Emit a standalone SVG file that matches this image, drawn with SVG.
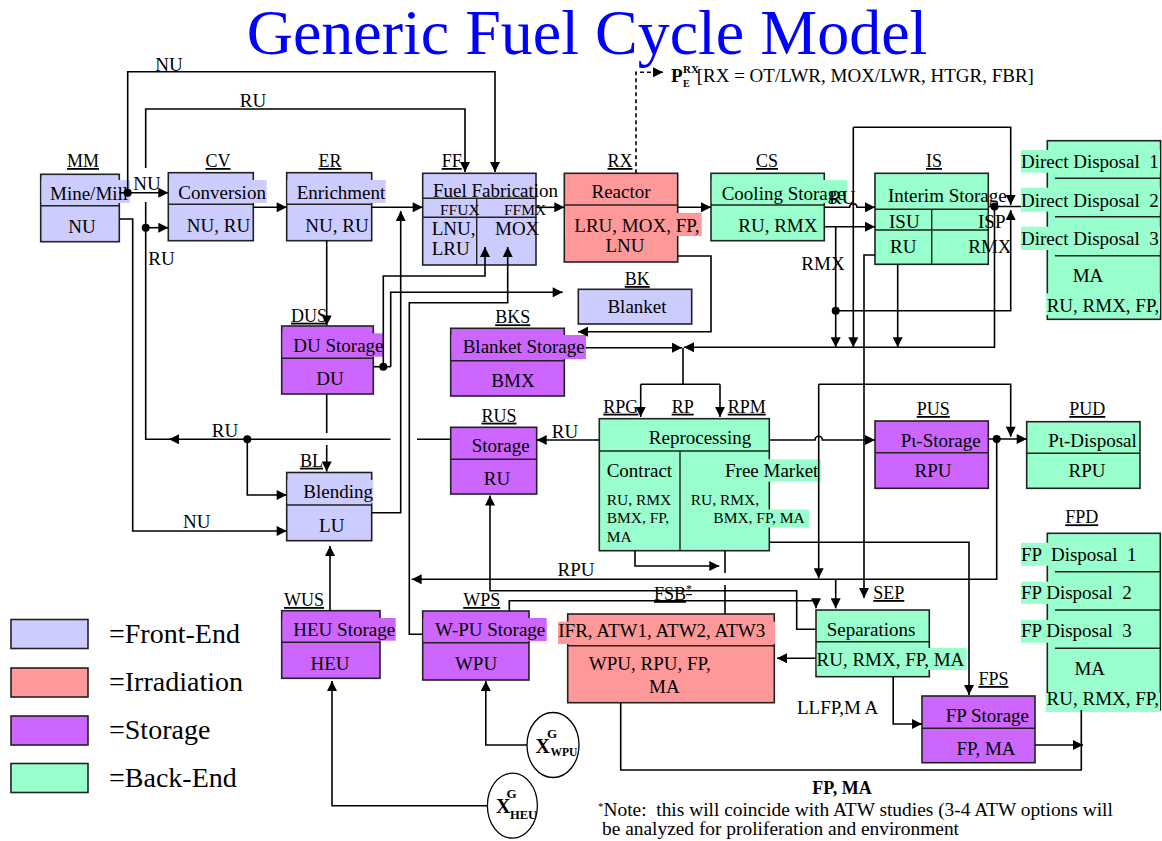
<svg xmlns="http://www.w3.org/2000/svg" width="1162" height="841" viewBox="0 0 1162 841">
<defs>
<marker id="a" viewBox="0 0 10 10" refX="10" refY="5" markerWidth="11" markerHeight="10" markerUnits="userSpaceOnUse" orient="auto"><path d="M0,0 L10,5 L0,10 z" fill="#000"/></marker>
</defs>
<style>
text{font-family:"Liberation Serif","Times New Roman",serif;font-size:19px;fill:#000}
.lb{font-size:18px;text-decoration:underline}
.c{text-anchor:middle}
.s{font-size:15.5px}
.fe{fill:#CCCCFF}.ir{fill:#FF9999}.st{fill:#CC66FF}.be{fill:#99FFCC}
.bx{stroke:#222;stroke-width:1.6}
.dv{stroke:#222;stroke-width:1.4;fill:none}
.ln{fill:none;stroke:#000;stroke-width:1.6}
.ar{marker-end:url(#a)}
.xb{font-weight:bold}
</style>
<rect width="1162" height="841" fill="#fff"/>
<text id="title" x="587" y="54" class="c" style="font-size:64px;fill:#0000FF">Generic Fuel Cycle Model</text>

<g id="MM">
<rect class="fe bx" x="40.7" y="174.3" width="78.6" height="67.4"/>
<line class="dv" x1="40.7" y1="205.7" x2="119.3" y2="205.7"/>
<rect class="fe" x="41.5" y="180" width="88.5" height="23"/>
<text x="50" y="200">Mine/Mill</text>
<text x="82" y="233" class="c">NU</text>
<text x="83" y="167" class="c lb">MM</text>
</g>
<g id="CV">
<rect class="fe bx" x="168.3" y="172.7" width="85" height="68"/>
<line class="dv" x1="168.3" y1="204.3" x2="253.3" y2="204.3"/>
<rect class="fe" x="169" y="180" width="97.7" height="23"/>
<text x="178.3" y="199">Conversion</text>
<text x="218.5" y="231.7" class="c">NU, RU</text>
<text x="218" y="167" class="c lb">CV</text>
</g>
<g id="ER">
<rect class="fe bx" x="286.7" y="172.7" width="85" height="68"/>
<line class="dv" x1="286.7" y1="204.3" x2="371.7" y2="204.3"/>
<rect class="fe" x="287.5" y="180" width="98.2" height="23"/>
<text x="296.7" y="199">Enrichment</text>
<text x="337" y="231.7" class="c">NU, RU</text>
<text x="330" y="167" class="c lb">ER</text>
</g>
<g id="FF">
<rect class="fe bx" x="422.7" y="173.3" width="113.3" height="91.7"/>
<path class="dv" d="M422.7,198.3 H536 M422.7,217.3 H536 M476.7,198.3 V265"/>
<text x="433" y="196.7">Fuel Fabrication</text>
<text x="440" y="215" style="font-size:15.5px">FFUX</text>
<text x="504" y="215" style="font-size:15.5px">FFMX</text>
<text x="431.7" y="235">LNU,</text>
<text x="431.7" y="255">LRU</text>
<text x="495" y="235">MOX</text>
<text x="451.7" y="167" class="c lb">FF</text>
</g>
<g id="RX">
<rect class="ir bx" x="564.3" y="173.3" width="113.4" height="88.7"/>
<line class="dv" x1="564.3" y1="205" x2="677.7" y2="205"/>
<rect class="ir" x="565" y="213" width="136.7" height="23"/>
<text x="621" y="198" class="c">Reactor</text>
<text x="574.3" y="231.7">LRU, MOX, FP,</text>
<text x="625" y="252" class="c">LNU</text>
<text x="620" y="167" class="c lb">RX</text>
</g>
<g id="CS">
<rect class="be bx" x="711" y="173.3" width="113.3" height="67.4"/>
<line class="dv" x1="711" y1="205" x2="824.3" y2="205"/>
<rect class="be" x="711.8" y="180" width="135.2" height="23"/>
<text x="721.7" y="200">Cooling Storage</text>
<text x="738.3" y="231.7">RU, RMX</text>
<text x="767" y="167" class="c lb">CS</text>
</g>
<g id="IS">
<rect class="be bx" x="875" y="173.3" width="113.3" height="91"/>
<path class="dv" d="M875,209.3 H988.3 M875,230 H988.3 M931.7,209.3 V264.3"/>
<text x="888" y="201.7">Interim Storage</text>
<text x="889" y="228">ISU</text>
<text x="978" y="228">ISP</text>
<text x="890" y="253">RU</text>
<text x="968.3" y="253">RMX</text>
<text x="934" y="167" class="c lb">IS</text>
</g>
<g id="DD">
<rect class="be bx" x="1047.3" y="140.7" width="113.3" height="178.6"/>
<path class="dv" d="M1055,178.3 H1160.6 M1055,216.7 H1160.6 M1055,255.7 H1160.6"/>
<rect class="be" x="1021" y="150" width="139" height="22.7"/>
<rect class="be" x="1021" y="187.7" width="139" height="24"/>
<rect class="be" x="1021" y="226.7" width="139" height="23.3"/>
<rect class="be" x="1045.7" y="293.3" width="114.3" height="21.7"/>
<text x="1021" y="168.3" xml:space="preserve">Direct Disposal  1</text>
<text x="1021" y="206.7" xml:space="preserve">Direct Disposal  2</text>
<text x="1021" y="245" xml:space="preserve">Direct Disposal  3</text>
<text x="1088" y="281.7" class="c">MA</text>
<text x="1046.7" y="311.7">RU, RMX, FP,</text>
</g>
<g id="DUS">
<rect class="st bx" x="281.7" y="326" width="91.6" height="68"/>
<line class="dv" x1="281.7" y1="358.3" x2="373.3" y2="358.3"/>
<rect class="st" x="282.5" y="333.3" width="100.8" height="23.4"/>
<text x="293.3" y="351.7">DU Storage</text>
<text x="330" y="385" class="c">DU</text>
<text x="291" y="321.7" class="lb">DUS</text>
</g>
<g id="BK">
<rect class="fe bx" x="578.3" y="289.3" width="113.4" height="34.7"/>
<text x="637" y="313.3" class="c">Blanket</text>
<text x="637.3" y="285" class="c lb">BK</text>
</g>
<g id="BKS">
<rect class="st bx" x="450.7" y="328.3" width="113.6" height="67.7"/>
<line class="dv" x1="450.7" y1="360.7" x2="564.3" y2="360.7"/>
<rect class="st" x="451.5" y="335" width="134.5" height="24"/>
<text x="462.7" y="353.3">Blanket Storage</text>
<text x="513" y="386.7" class="c">BMX</text>
<text x="512.7" y="323.3" class="c lb">BKS</text>
</g>
<g id="RUS">
<rect class="st bx" x="450.7" y="427.3" width="86" height="66.7"/>
<line class="dv" x1="450.7" y1="459.3" x2="536.7" y2="459.3"/>
<text x="471.7" y="452.3">Storage</text>
<text x="497" y="485" class="c">RU</text>
<text x="499" y="421.7" class="c lb">RUS</text>
</g>
<g id="RP">
<rect class="be bx" x="599.3" y="418.7" width="170" height="132"/>
<path class="dv" d="M599.3,451 H769.3 M680,451 V550.7"/>
<rect class="be" x="722" y="459.3" width="98.7" height="22.4"/>
<rect class="be" x="768" y="509.5" width="41" height="18"/>
<text x="700" y="444.3" class="c">Reprocessing</text>
<text x="606.7" y="476.7">Contract</text>
<text x="725" y="477">Free Market</text>
<text x="606.7" y="505" class="s">RU, RMX</text>
<text x="606.7" y="523.3" class="s">BMX, FP,</text>
<text x="606.7" y="541.7" class="s">MA</text>
<text x="690.7" y="505" class="s">RU, RMX,</text>
<text x="713.3" y="523.3" class="s">BMX, FP, MA</text>
<text x="603.3" y="412.7" class="lb">RPG</text>
<text x="682.7" y="412.7" class="c lb">RP</text>
<text x="727.7" y="412.7" class="lb">RPM</text>
</g>
<g id="PUS">
<rect class="st bx" x="875" y="421" width="113.3" height="67.3"/>
<line class="dv" x1="875" y1="452.7" x2="988.3" y2="452.7"/>
<text x="900.7" y="446.7">Pι-Storage</text>
<text x="933" y="476.7" class="c">RPU</text>
<text x="933.3" y="415" class="c lb">PUS</text>
</g>
<g id="PUD">
<rect class="be bx" x="1026.7" y="421.7" width="113.3" height="66.6"/>
<line class="dv" x1="1026.7" y1="453.3" x2="1140" y2="453.3"/>
<text x="1048.3" y="446.7">Pι-Disposal</text>
<text x="1087" y="476.7" class="c">RPU</text>
<text x="1087.3" y="415" class="c lb">PUD</text>
</g>
<g id="BL">
<rect class="fe bx" x="286.7" y="472.5" width="85" height="68.2"/>
<line class="dv" x1="286.7" y1="505" x2="371.7" y2="505"/>
<rect class="fe" x="287.5" y="480" width="85.8" height="23.3"/>
<text x="303.3" y="498.3">Blending</text>
<text x="331.7" y="531.7" class="c">LU</text>
<text x="300" y="466.7" class="lb">BL</text>
</g>
<g id="WUS">
<rect class="st bx" x="281.7" y="610.7" width="98.3" height="67.6"/>
<line class="dv" x1="281.7" y1="642.3" x2="380" y2="642.3"/>
<rect class="st" x="282.5" y="618" width="113.2" height="22.7"/>
<text x="293.3" y="635.7">HEU Storage</text>
<text x="330" y="670" class="c">HEU</text>
<text x="284" y="606" class="lb">WUS</text>
</g>
<g id="WPS">
<rect class="st bx" x="422.7" y="611" width="106.3" height="69"/>
<line class="dv" x1="422.7" y1="642.7" x2="529" y2="642.7"/>
<rect class="st" x="423.5" y="618" width="123.2" height="23"/>
<text x="435" y="635.7">W-PU Storage</text>
<text x="476" y="670" class="c">WPU</text>
<text x="481.7" y="606" class="c lb">WPS</text>
</g>
<g id="FSB">
<rect class="ir bx" x="567.7" y="614" width="206.6" height="88.7"/>
<line class="dv" x1="567.7" y1="645.7" x2="774.3" y2="645.7"/>
<rect class="ir" x="558" y="621.7" width="217" height="22.3"/>
<text x="558.3" y="636.7">IFR, ATW1, ATW2, ATW3</text>
<text x="588.8" y="670">WPU, RPU, FP,</text>
<text x="664.4" y="693.3" class="c">MA</text>
<text x="654" y="600" class="lb">FSB<tspan dy="-7" style="font-size:12px">*</tspan></text>
</g>
<g id="SEP">
<rect class="be bx" x="816" y="610" width="113.3" height="66.7"/>
<line class="dv" x1="816" y1="641.7" x2="929.3" y2="641.7"/>
<rect class="be" x="816.8" y="648" width="149.9" height="22"/>
<text x="826.7" y="635.7">Separations</text>
<text x="816.5" y="666">RU, RMX, FP, MA</text>
<text x="873.3" y="599" class="lb">SEP</text>
</g>
<g id="FPS">
<rect class="st bx" x="922" y="696" width="113" height="66.7"/>
<line class="dv" x1="922" y1="728.3" x2="1035" y2="728.3"/>
<text x="945.8" y="721.7">FP Storage</text>
<text x="986" y="755" class="c">FP, MA</text>
<text x="978.4" y="685" class="lb">FPS</text>
</g>
<g id="FPD">
<rect class="be bx" x="1047.3" y="533.3" width="113" height="176.7"/>
<path class="dv" d="M1055,571.7 H1160.3 M1055,610 H1160.3 M1055,648.3 H1160.3"/>
<rect class="be" x="1021" y="542.7" width="120" height="23"/>
<rect class="be" x="1021" y="581.7" width="120" height="22.3"/>
<rect class="be" x="1021" y="620" width="120" height="22.7"/>
<rect class="be" x="1045.6" y="693" width="114.4" height="19"/>
<text x="1021" y="560.7" xml:space="preserve">FP  Disposal  1</text>
<text x="1021" y="599.3" xml:space="preserve">FP Disposal  2</text>
<text x="1021" y="637.3" xml:space="preserve">FP Disposal  3</text>
<text x="1089.7" y="675" class="c">MA</text>
<text x="1046.6" y="705">RU, RMX, FP,</text>
<text x="1081.7" y="523.3" class="c lb">FPD</text>
</g>
<g id="XWPU">
<ellipse cx="553" cy="745" rx="26" ry="32.5" fill="#fff" stroke="#000" stroke-width="1.3"/>
<text x="535.5" y="753" class="xb" style="font-size:20px">X</text>
<text x="547" y="738" class="xb" style="font-size:13px">G</text>
<text x="550.5" y="756" class="xb" style="font-size:11.5px">WPU</text>
</g>
<g id="XHEU">
<ellipse cx="512.4" cy="805.7" rx="25" ry="32.5" fill="#fff" stroke="#000" stroke-width="1.3"/>
<text x="496" y="813" class="xb" style="font-size:20px">X</text>
<text x="506.5" y="798" class="xb" style="font-size:13px">G</text>
<text x="510" y="819" class="xb" style="font-size:12.5px">HEU</text>
</g>
<g id="legend">
<rect class="fe bx" x="11" y="619.5" width="77" height="29"/>
<rect class="ir bx" x="11" y="668" width="77" height="29"/>
<rect class="st bx" x="11" y="716" width="77" height="29"/>
<rect class="be bx" x="11" y="763.5" width="77" height="29"/>
<text x="109" y="643.3" style="font-size:28px">=Front-End</text>
<text x="109" y="690.5" style="font-size:28px">=Irradiation</text>
<text x="109" y="738.5" style="font-size:28px">=Storage</text>
<text x="109" y="786.7" style="font-size:28px">=Back-End</text>
</g>

<g id="connectors">
<path class="ln ar" d="M127.7,192.7 V71.7 H495 V172"/>
<path class="ln ar" d="M145.7,168 V109 H465 V172"/>
<path class="ln ar" d="M119.3,192.7 H168.3"/>
<path class="ln ar" d="M145.7,227.7 H168.3"/>
<path class="ln" d="M145.7,202 V439.3 H170"/>
<path class="ln ar" d="M390.5,439.3 H169"/>
<path class="ln" d="M450.7,439.3 H417"/>
<path class="ln ar" d="M253.3,207.3 H286.7"/>
<path class="ln ar" d="M371.7,207.3 H422.7"/>
<path class="ln ar" d="M536,207.3 H564.3"/>
<path class="ln ar" d="M677.7,207.3 H711"/>
<path class="ln ar" d="M824.3,207.3 H849.6 a3.7,3.7 0 0 1 7.4,0 H875"/>
<path class="ln ar" d="M824.3,226.7 H875"/>
<path class="ln ar" d="M835.7,226.7 V347.3"/>
<path class="ln ar" d="M835.7,310.7 H1010.7 V210"/>
<path class="ln ar" d="M875,255 H864 V598"/>
<path class="ln ar" d="M897.7,264.3 V347.3"/>
<path class="ln ar" d="M853.3,127.3 V347.3"/>
<path class="ln ar" d="M853.3,127.3 H1010.7 V205"/>
<path class="ln" d="M988.3,206.5 H1021"/>
<path class="ln ar" d="M994.5,206.5 V347.3 H684"/>
<path class="ln ar" d="M586,347.7 H682"/>
<path class="ln" d="M683,347.7 V384.3 M640.7,384.3 H720"/>
<path class="ln ar" d="M640.7,384.3 V417"/>
<path class="ln ar" d="M720,384.3 V417"/>
<path class="ln ar" d="M677.7,256 H711 V331.7 H578"/>
<path class="ln" d="M373.3,366.7 H390.7"/>
<path class="ln ar" d="M383.3,366.7 V276 H485 V247"/>
<path class="ln ar" d="M390.7,366.7 V292.3 H562.7"/>
<path class="ln ar" d="M422.7,634.3 H409.3 V302.7 H507.7 V247"/>
<path class="ln ar" d="M371.7,512.7 H400.7 V211"/>
<path class="ln ar" d="M119.3,219 H132.7 V531 H286.7"/>
<path class="ln ar" d="M247.3,439.3 V495 H286.7"/>
<path class="ln ar" d="M326.7,240.7 V325.5"/>
<path class="ln" d="M326.7,394 V433"/>
<path class="ln ar" d="M326.7,445 V471.5"/>
<path class="ln ar" d="M330,610.7 V546"/>
<path class="ln ar" d="M487.4,805.7 H332 V681"/>
<path class="ln ar" d="M527,745 H485.8 V681"/>
<path class="ln ar" d="M599.3,440 H536.7"/>
<path class="ln ar" d="M769.3,440 H815 a3.7,3.7 0 0 1 7.4,0 H875"/>
<path class="ln ar" d="M988.3,439 H1026.7"/>
<path class="ln ar" d="M996.7,439 V579.3 H411.7"/>
<path class="ln ar" d="M835.7,579.3 V608.3"/>
<path class="ln ar" d="M818.7,384.3 V578.3"/>
<path class="ln ar" d="M818.7,384.3 H1010.7 V436.7"/>
<path class="ln ar" d="M816,629.3 H796.7 V590.7 H490 V495.5"/>
<path class="ln ar" d="M509.3,611 V600.7 H816 V608.3"/>
<path class="ln" d="M725,550.7 V573 M725,585 V614"/>
<path class="ln ar" d="M635,550.7 V566 H719.3"/>
<path class="ln ar" d="M769.3,542.3 H969 V695"/>
<path class="ln ar" d="M816,658.3 H777"/>
<path class="ln ar" d="M893.2,676.7 V724 H922"/>
<path class="ln ar" d="M1035,745 H1083"/>
<path class="ln" d="M620.7,702.7 V770 H1081.3 V710"/>
<path class="ln ar" d="M636,173.3 V72.3 H663" stroke-dasharray="4,3"/>
<g fill="#000">
<circle cx="127.7" cy="192.7" r="4"/>
<circle cx="145.7" cy="227.7" r="4"/>
<circle cx="835.7" cy="310.7" r="4"/>
<circle cx="994.5" cy="206.5" r="4"/>
<circle cx="383.3" cy="366.7" r="4"/>
<circle cx="247.3" cy="439.3" r="4"/>
<circle cx="996.7" cy="439" r="4"/>
</g>
</g>

<g id="edge-labels">
<text x="169" y="70.7" class="c">NU</text>
<text x="253" y="106.7" class="c">RU</text>
<text x="133.3" y="190">NU</text>
<text x="148.3" y="265">RU</text>
<text x="225" y="436.7" class="c">RU</text>
<text x="196.7" y="528" class="c">NU</text>
<text x="829" y="204">RU</text>
<text x="823" y="270" class="c">RMX</text>
<text x="565" y="438.3" class="c">RU</text>
<text x="576" y="576" class="c">RPU</text>
<text x="797" y="714">LLFP,M A</text>
<text x="842" y="794" class="c xb" style="font-size:18px">FP, MA</text>
<text x="671" y="81.7" class="xb">P</text>
<text x="683" y="73" class="xb" style="font-size:11px">RX</text>
<text x="683" y="87" class="xb" style="font-size:10px">E</text>
<text x="696.7" y="81.7">[RX = OT/LWR, MOX/LWR, HTGR, FBR]</text>
<text x="598" y="816" style="font-size:19.4px" xml:space="preserve"><tspan dy="-6" style="font-size:11px">*</tspan><tspan dy="6">Note:  this will coincide with ATW studies (3-4 ATW options will</tspan></text>
<text x="602" y="835" style="font-size:19.4px">be analyzed for proliferation and environment</text>
</g>
</svg>
